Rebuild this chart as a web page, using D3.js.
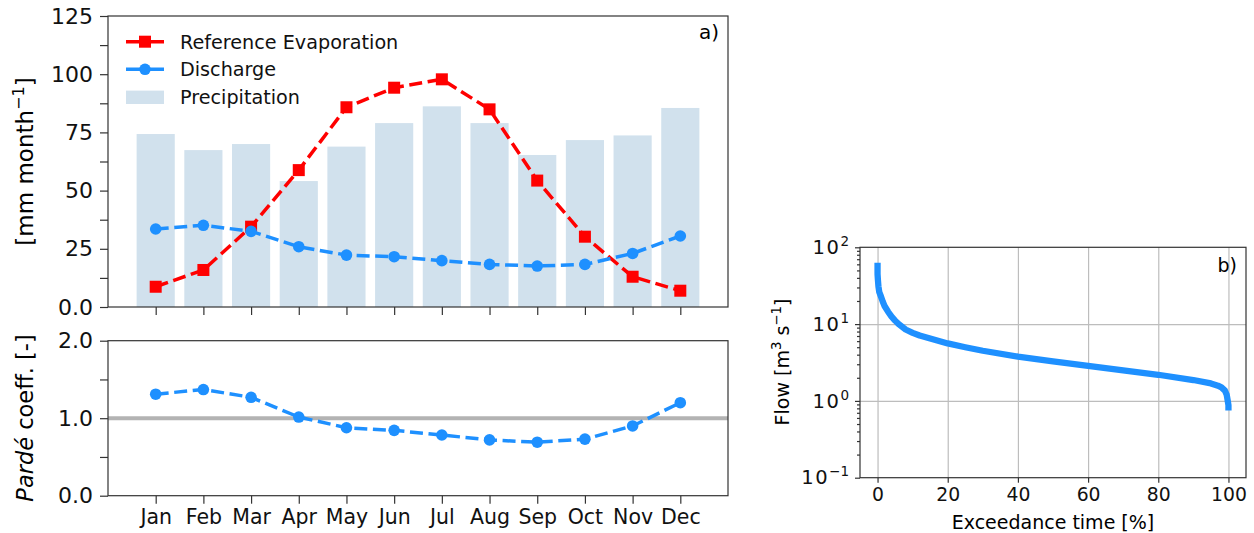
<!DOCTYPE html>
<html>
<head>
<meta charset="utf-8">
<script src="https://cdn.jsdelivr.net/npm/d3@7"></script>
<style>
  body { margin: 0; background: #fff; }
  svg { font-family: "DejaVu Sans", sans-serif; }
</style>
</head>
<body>
<svg id="fig" width="1254" height="533"></svg>
<script>
// monthly data
var months = ["Jan", "Feb", "Mar", "Apr", "May", "Jun", "Jul", "Aug", "Sep", "Oct", "Nov", "Dec"];
var precip = [74.3, 67.4, 70.0, 54.1, 68.9, 79.0, 86.2, 79.0, 65.3, 71.7, 73.7, 85.5];
var evap = [8.7, 15.9, 34.5, 58.8, 85.8, 94.2, 97.8, 84.9, 54.3, 30.2, 13.0, 7.0];
var discharge = [33.5, 35.1, 32.5, 25.9, 22.3, 21.6, 19.9, 18.3, 17.6, 18.3, 23.0, 30.5];
var parde = [1.31, 1.37, 1.27, 1.015, 0.877, 0.843, 0.783, 0.72, 0.69, 0.73, 0.90, 1.20];

// flow duration curve
var exceed = [0, 0, 0.1, 0.25, 0.5, 1, 1.5, 2, 3, 4, 5, 6, 8, 10, 12, 15, 20, 25, 30, 40, 50, 60, 70, 80, 90, 95, 97, 98, 99, 99.5, 99.8, 100, 100];
var flow = [63, 45, 38, 31, 26, 22.7, 19.5, 17.2, 14.5, 12.5, 11.1, 10, 8.5, 7.7, 7.1, 6.5, 5.6, 5.0, 4.5, 3.77, 3.28, 2.85, 2.5, 2.19, 1.87, 1.69, 1.58, 1.5, 1.36, 1.2, 1.0, 0.88, 0.75];

var yTicksTop = [0, 25, 50, 75, 100, 125];
var yTicksBot = [0, 1, 2];
var xTicksFdc = [0, 20, 40, 60, 80, 100];

var RED = "#ff0000", BLUE = "#1e90ff", BAR = "#d1e1ed", SPINE = "#333";

var svg = d3.select("#fig");

var xM = d3.scaleLinear().domain([-1, 12]).range([108, 728]);
var yT = d3.scaleLinear().domain([0, 125]).range([307, 16]);
var yB = d3.scaleLinear().domain([0, 2]).range([495.7, 340.7]);
var xR = d3.scaleLinear().domain([-5, 105]).range([860, 1246]);
var yR = d3.scaleLog().domain([0.1, 100]).range([477.7, 247.3]);

function styleAxis(fs) {
    return function(g) {
        g.attr("font-family", null).attr("font-size", null);
        g.select(".domain").remove();
        g.selectAll(".tick line").attr("stroke", SPINE).attr("stroke-width", 1.2);
        g.selectAll(".tick text").style("font-size", (fs || 20) + "px").attr("fill", "#111");
    };
}

function frame(x0, x1, y0, y1) {
    svg.append("rect").attr("x", x0).attr("y", y1).attr("width", x1 - x0).attr("height", y0 - y1)
        .attr("fill", "none").attr("stroke", SPINE).attr("stroke-width", 1.2);
}

// ---------- panel a) top ----------
var gTop = svg.append("g");
gTop.selectAll("rect.bar").data(precip).enter().append("rect")
    .attr("class", "bar")
    .attr("x", function(d, i) { return xM(i - 0.4); })
    .attr("width", xM(0.8) - xM(0))
    .attr("y", function(d) { return yT(d); })
    .attr("height", function(d) { return yT(0) - yT(d); })
    .attr("fill", BAR);

var lineT = d3.line().x(function(d, i) { return xM(i); }).y(function(d) { return yT(d); });

gTop.append("path").datum(evap).attr("d", lineT)
    .attr("fill", "none").attr("stroke", RED).attr("stroke-width", 3.5).attr("stroke-dasharray", "13,5.6");
gTop.selectAll("rect.ev").data(evap).enter().append("rect")
    .attr("class", "ev")
    .attr("x", function(d, i) { return xM(i) - 6; })
    .attr("y", function(d) { return yT(d) - 6; })
    .attr("width", 12).attr("height", 12).attr("fill", RED);

gTop.append("path").datum(discharge).attr("d", lineT)
    .attr("fill", "none").attr("stroke", BLUE).attr("stroke-width", 3.5).attr("stroke-dasharray", "13,5.6");
gTop.selectAll("circle.q").data(discharge).enter().append("circle")
    .attr("class", "q")
    .attr("cx", function(d, i) { return xM(i); })
    .attr("cy", function(d) { return yT(d); })
    .attr("r", 5.8).attr("fill", BLUE);

gTop.append("g").attr("transform", "translate(108,0)")
    .call(d3.axisLeft(yT).tickValues(yTicksTop).tickSize(8).tickPadding(7)
        .tickFormat(function(d) { return d === 0 ? "0.0" : d; }))
    .call(styleAxis(22));
gTop.append("g").attr("transform", "translate(108,0)")
    .call(d3.axisLeft(yT).tickValues([12.5, 37.5, 62.5, 87.5, 112.5]).tickSize(8).tickFormat(""))
    .call(styleAxis());
gTop.append("g").attr("transform", "translate(0,307)")
    .call(d3.axisBottom(xM).tickValues(d3.range(12)).tickSize(8).tickFormat(""))
    .call(styleAxis());
frame(108, 728, 307, 16);

var yl = gTop.append("text").attr("transform", "translate(33,161.5) rotate(-90)")
    .attr("text-anchor", "middle").attr("font-size", 23);
yl.append("tspan").text("[mm month");
yl.append("tspan").attr("dy", -9).attr("font-size", 16).text("\u22121");
yl.append("tspan").attr("dy", 9).text("]");
gTop.append("text").attr("x", 719).attr("y", 39).attr("text-anchor", "end")
    .attr("font-size", 20).text("a)");

// legend
var leg = gTop.append("g");
var legRows = [
    { label: "Reference Evaporation", y: 41.7, kind: "sq" },
    { label: "Discharge", y: 69.3, kind: "ci" },
    { label: "Precipitation", y: 97.3, kind: "bar" }
];
legRows.forEach(function(r) {
    if (r.kind === "bar") {
        leg.append("rect").attr("x", 126).attr("y", r.y - 6.7).attr("width", 38).attr("height", 13.4).attr("fill", BAR);
    } else {
        var c = r.kind === "sq" ? RED : BLUE;
        leg.append("line").attr("x1", 126).attr("x2", 164).attr("y1", r.y).attr("y2", r.y)
            .attr("stroke", c).attr("stroke-width", 3.5);
        if (r.kind === "sq")
            leg.append("rect").attr("x", 139).attr("y", r.y - 6).attr("width", 12).attr("height", 12).attr("fill", c);
        else
            leg.append("circle").attr("cx", 145).attr("cy", r.y).attr("r", 5.8).attr("fill", c);
    }
    leg.append("text").attr("x", 180).attr("y", r.y + 6.9).attr("font-size", 19.2).attr("fill", "#111").text(r.label);
});

// ---------- panel a) bottom ----------
var bot = svg.append("g");
bot.append("line").attr("x1", 108).attr("x2", 728).attr("y1", yB(1)).attr("y2", yB(1))
    .attr("stroke", "#b3b3b3").attr("stroke-width", 4);
var lineB = d3.line().x(function(d, i) { return xM(i); }).y(function(d) { return yB(d); });
bot.append("path").datum(parde).attr("d", lineB)
    .attr("fill", "none").attr("stroke", BLUE).attr("stroke-width", 3.5).attr("stroke-dasharray", "13,5.6");
bot.selectAll("circle.p").data(parde).enter().append("circle")
    .attr("cx", function(d, i) { return xM(i); })
    .attr("cy", function(d) { return yB(d); })
    .attr("r", 5.8).attr("fill", BLUE);

bot.append("g").attr("transform", "translate(108,0)")
    .call(d3.axisLeft(yB).tickValues(yTicksBot).tickSize(8).tickPadding(7).tickFormat(d3.format(".1f")))
    .call(styleAxis(22));
bot.append("g").attr("transform", "translate(108,0)")
    .call(d3.axisLeft(yB).tickValues([0.5, 1.5]).tickSize(8).tickFormat(""))
    .call(styleAxis());
bot.append("g").attr("transform", "translate(0,495.7)")
    .call(d3.axisBottom(xM).tickValues(d3.range(12)).tickSize(8).tickPadding(6)
        .tickFormat(function(i) { return months[i]; }))
    .call(styleAxis(20.5));
frame(108, 728, 495.7, 340.7);

var pl = bot.append("text").attr("transform", "translate(33,418) rotate(-90)")
    .attr("text-anchor", "middle").attr("font-size", 22.5);
pl.append("tspan").attr("font-style", "italic").text("Pardé");
pl.append("tspan").text(" coeff. [-]");

// ---------- panel b) ----------
var fdc = svg.append("g");
fdc.append("g").attr("transform", "translate(0,477.7)")
    .call(d3.axisBottom(xR).tickValues(xTicksFdc).tickSize(-230.4).tickFormat(""))
    .call(styleAxis())
    .selectAll(".tick line").attr("stroke", "#bdbdbd").attr("stroke-width", 1.2);
fdc.append("g").attr("transform", "translate(860,0)")
    .call(d3.axisLeft(yR).tickValues([1, 10]).tickSize(-386).tickFormat(""))
    .call(styleAxis())
    .selectAll(".tick line").attr("stroke", "#bdbdbd").attr("stroke-width", 1.2);

var fdcPts = exceed.map(function(e, i) { return [e, flow[i]]; });
fdc.append("path").datum(fdcPts)
    .attr("d", d3.line().x(function(d) { return xR(d[0]); }).y(function(d) { return yR(d[1]); }))
    .attr("fill", "none").attr("stroke", BLUE).attr("stroke-width", 6.3).attr("stroke-linejoin", "round");

fdc.append("g").attr("transform", "translate(0,477.7)")
    .call(d3.axisBottom(xR).tickValues(xTicksFdc).tickSize(5).tickPadding(5))
    .call(styleAxis(18.8));
var gyR = fdc.append("g").attr("transform", "translate(860,0)")
    .call(d3.axisLeft(yR).tickValues([0.1, 1, 10, 100]).tickSize(5).tickPadding(6).tickFormat(""))
    .call(styleAxis(19.5));
var expo = { "0.1": "\u22121", "1": "0", "10": "1", "100": "2" };
gyR.selectAll(".tick text").each(function(d) {
    var t = d3.select(this);
    t.append("tspan").attr("letter-spacing", 1.5).text("10");
    t.append("tspan").attr("dy", -8).attr("font-size", 13.5).text(expo[String(d)]);
});
var minors = [];
[0.1, 1, 10].forEach(function(dec) {
    for (var k = 2; k <= 9; k++) minors.push(dec * k);
});
fdc.append("g").attr("transform", "translate(860,0)")
    .call(d3.axisLeft(yR).tickValues(minors).tickSize(3).tickFormat(""))
    .call(styleAxis());
frame(860, 1246, 477.7, 247.3);

fdc.append("text").attr("x", 1053).attr("y", 529).attr("text-anchor", "middle")
    .attr("font-size", 19).text("Exceedance time [%]");
var fl = fdc.append("text").attr("transform", "translate(789,362) rotate(-90)")
    .attr("text-anchor", "middle").attr("font-size", 19);
fl.append("tspan").text("Flow [m");
fl.append("tspan").attr("dy", -8).attr("font-size", 13.3).text("3");
fl.append("tspan").attr("dy", 8).text(" s");
fl.append("tspan").attr("dy", -8).attr("font-size", 13.3).text("\u22121");
fl.append("tspan").attr("dy", 8).text("]");
fdc.append("text").attr("x", 1237).attr("y", 272).attr("text-anchor", "end")
    .attr("font-size", 19).text("b)");
</script>
</body>
</html>
